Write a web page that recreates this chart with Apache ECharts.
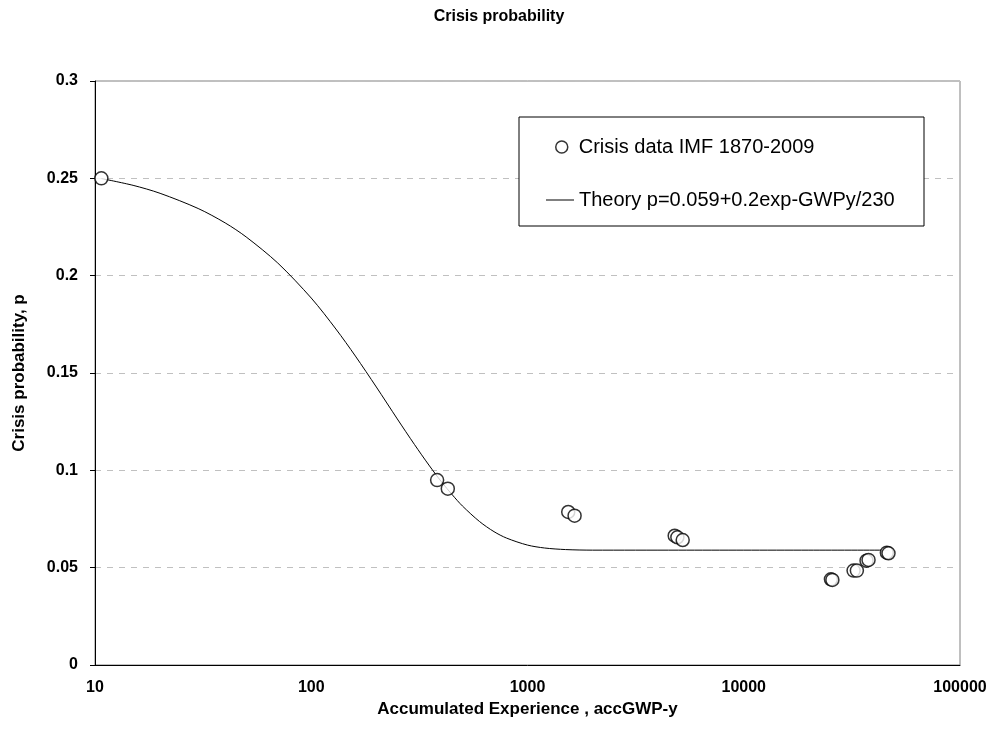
<!DOCTYPE html>
<html>
<head>
<meta charset="utf-8">
<script src="https://cdn.jsdelivr.net/npm/echarts@6/dist/echarts.min.js"></script>
<style>
html,body{margin:0;padding:0;background:#fff;}
#chart{width:998px;height:743px;}
</style>
</head>
<body>
<div id="chart"></div>
<script>
// Crisis data points [accumulated experience, probability]
const crisisX = [10.7, 382, 428, 1543, 1651, 4794, 4932, 5220, 25300, 25700, 32200, 33350, 36970, 37760, 45900, 46700];
const crisisY = [0.250, 0.095, 0.0906, 0.0786, 0.0767, 0.0664, 0.0656, 0.0642, 0.0440, 0.0437, 0.0485, 0.0485, 0.0536, 0.0540, 0.0577, 0.0574];

// Theory curve
const theoryX = [10.7, 15, 20, 30, 40, 50, 70, 100, 130, 160, 200, 250, 300, 350, 400, 450, 500, 600, 700, 800, 1000, 1200, 1500, 2000, 5000, 10000, 20000, 46700];
const theoryY = [0.2499, 0.2464, 0.2423, 0.2345, 0.2271, 0.2199, 0.2065, 0.1885, 0.1726, 0.1587, 0.1428, 0.1264, 0.1133, 0.1027, 0.0941, 0.0873, 0.0817, 0.0737, 0.0685, 0.0652, 0.0616, 0.0601, 0.0593, 0.0590, 0.0590, 0.0590, 0.0590, 0.0590];

const xTicks = [10, 100, 1000, 10000, 100000];
const yTicks = [0, 0.05, 0.1, 0.15, 0.2, 0.25, 0.3];

const seriesNames = ['Crisis data IMF 1870-2009', 'Theory p=0.059+0.2exp-GWPy/230'];

const FONT = '"Liberation Sans", Arial, sans-serif';

const chart = echarts.init(document.getElementById('chart'), null, {renderer: 'canvas'});
chart.setOption({
  animation: false,
  backgroundColor: '#fff',
  title: {
    text: 'Crisis probability',
    left: 'center',
    top: 4,
    textStyle: {fontFamily: FONT, fontSize: 16, fontWeight: 'bold', color: '#000'}
  },
  grid: {
    left: 95, right: 38, top: 81, bottom: 78,
    show: true, borderColor: '#808080', borderWidth: 1, backgroundColor: 'transparent'
  },
  graphic: [{
    type: 'rect', z: 5,
    shape: {x: 519, y: 117, width: 405, height: 109},
    style: {fill: '#fff', stroke: '#000', lineWidth: 1}
  }],
  legend: [{
    data: [seriesNames[0]],
    left: 555, top: 137, padding: 0, z: 10,
    itemWidth: 24, itemHeight: 12,
    itemStyle: {color: '#fff', borderColor: '#000', borderWidth: 1.5},
    textStyle: {fontFamily: FONT, fontSize: 20, color: '#000'}
  }, {
    data: [{name: seriesNames[1], icon: 'rect'}],
    left: 546, top: 190, padding: 0, z: 10,
    itemWidth: 28, itemHeight: 1,
    itemStyle: {color: '#000'},
    textStyle: {fontFamily: FONT, fontSize: 20, color: '#000'}
  }],
  xAxis: {
    type: 'log', logBase: 10, min: xTicks[0], max: xTicks[xTicks.length - 1],
    name: 'Accumulated Experience , accGWP-y',
    nameLocation: 'middle', nameGap: 31,
    nameTextStyle: {fontFamily: FONT, fontSize: 17, fontWeight: 'bold', color: '#000'},
    axisLine: {show: true, onZero: false, lineStyle: {color: '#000', width: 1}},
    axisTick: {show: false},
    minorTick: {show: false},
    splitLine: {show: false},
    axisLabel: {
      margin: 15, fontFamily: FONT, fontSize: 16, fontWeight: 'bold', color: '#000',
      formatter: v => String(Math.round(v))
    }
  },
  yAxis: {
    type: 'value', min: yTicks[0], max: yTicks[yTicks.length - 1], interval: 0.05,
    name: 'Crisis probability, p',
    nameLocation: 'middle', nameGap: 67,
    nameTextStyle: {fontFamily: FONT, fontSize: 17, fontWeight: 'bold', color: '#000'},
    axisLine: {show: true, lineStyle: {color: '#000', width: 1}},
    axisTick: {show: true, inside: false, length: 5, lineStyle: {color: '#000'}},
    splitLine: {show: true, lineStyle: {color: '#c0c0c0', type: [6, 6], width: 1}},
    axisLabel: {
      margin: 17, fontFamily: FONT, fontSize: 16, fontWeight: 'bold', color: '#000',
      formatter: v => String(parseFloat(v.toFixed(2)))
    }
  },
  series: [{
    name: seriesNames[0],
    type: 'scatter',
    data: crisisX.map((x, i) => [x, crisisY[i]]),
    symbol: 'circle', symbolSize: 13,
    itemStyle: {color: '#fff', borderColor: '#000', borderWidth: 1.5},
    z: 4
  }, {
    name: seriesNames[1],
    type: 'line',
    data: theoryX.map((x, i) => [x, theoryY[i]]),
    smooth: 0.3,
    symbol: 'none', showSymbol: false,
    lineStyle: {color: '#000', width: 1},
    itemStyle: {color: '#000'},
    z: 3
  }]
});
</script>
</body>
</html>
